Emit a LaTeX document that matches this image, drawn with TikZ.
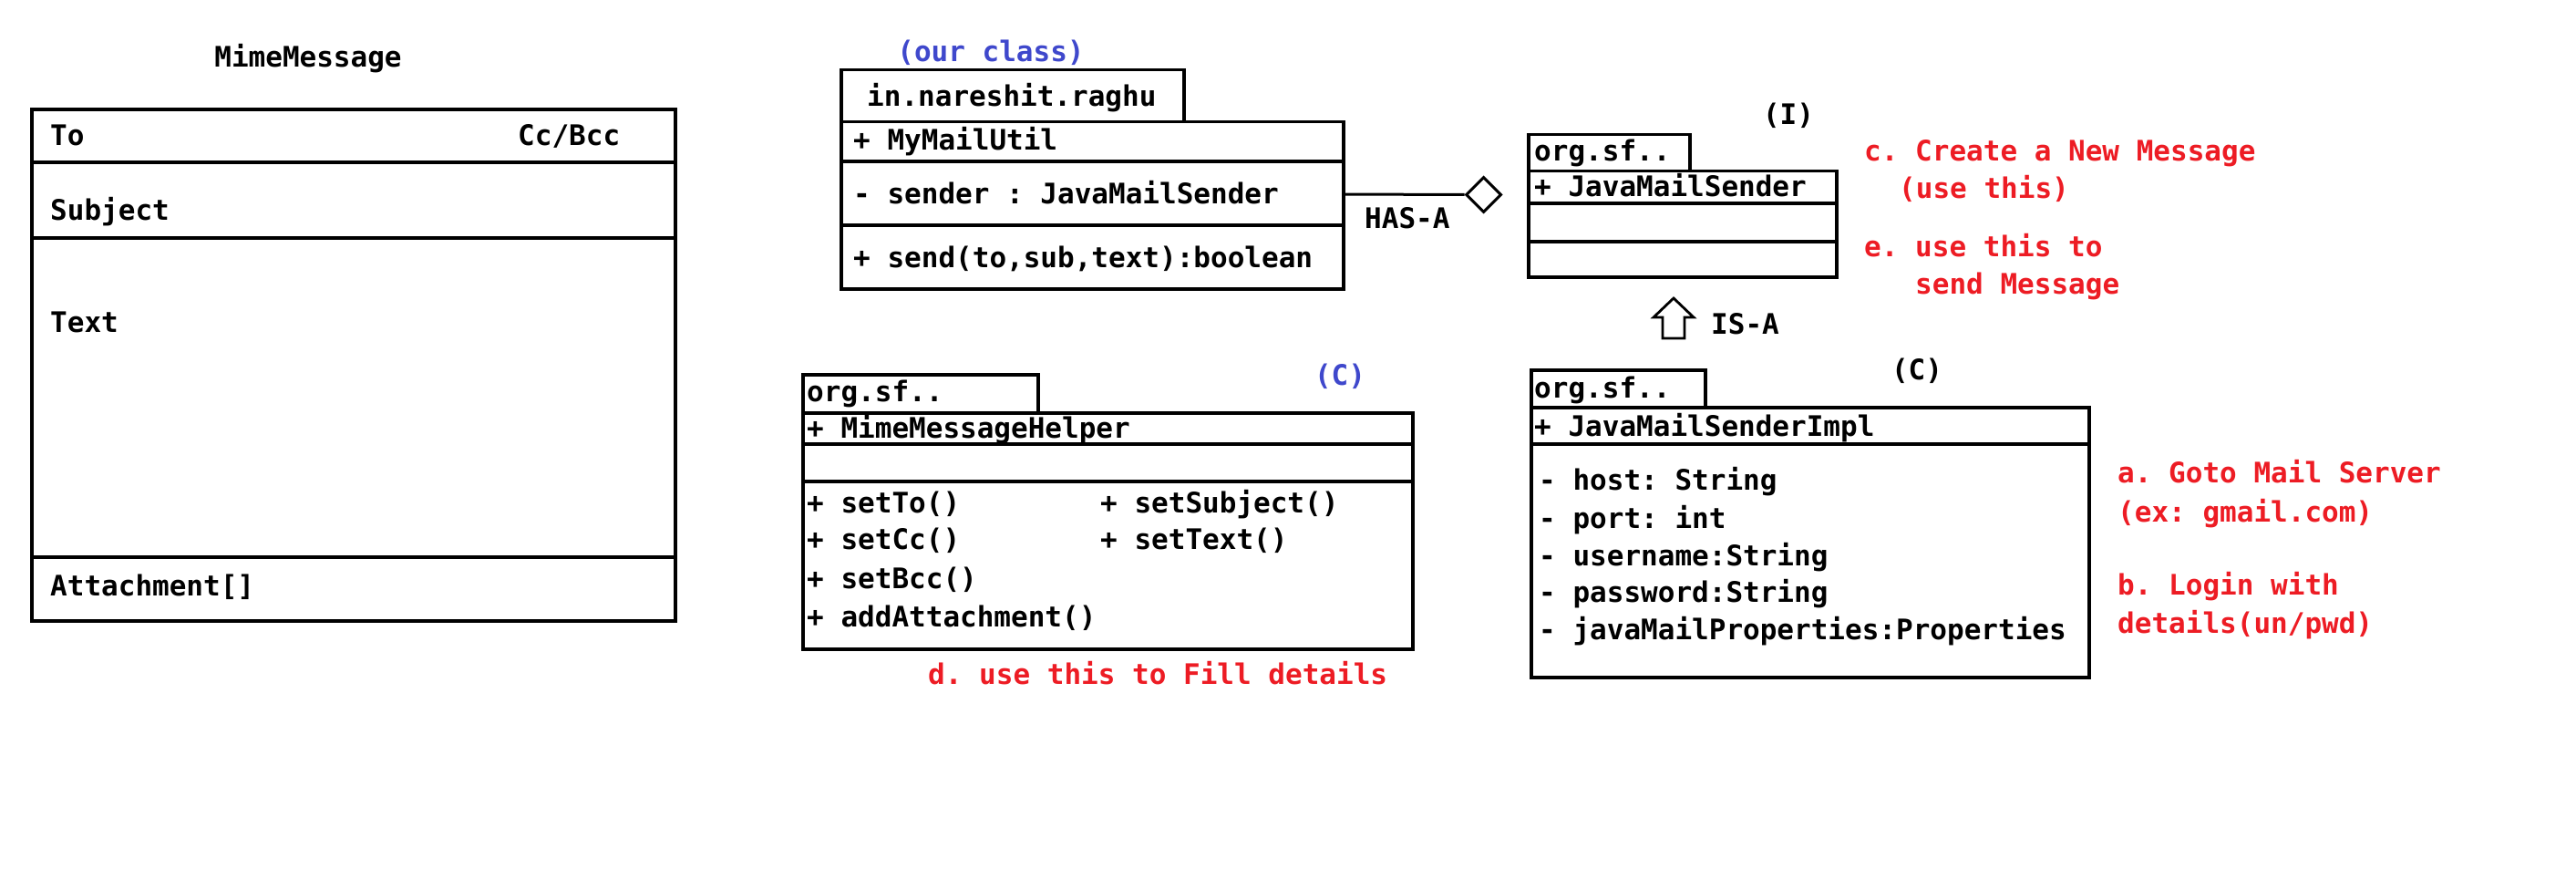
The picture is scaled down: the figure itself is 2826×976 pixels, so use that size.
\documentclass[tikz,border=0pt]{standalone}
\usepackage{fontspec}
\setmonofont{DejaVu Sans Mono}
\usetikzlibrary{shapes.geometric}
\definecolor{pred}{RGB}{237,28,36}
\definecolor{pblue}{RGB}{63,72,204}
\tikzset{
  txt/.style={anchor=base west, inner sep=0pt, font=\fontsize{31}{37}\selectfont\ttfamily\bfseries, text=black},
  ctxt/.style={txt, anchor=base},
  redtxt/.style={txt, text=pred},
  bluetxt/.style={ctxt, text=pblue},
  thickline/.style={line width=4pt},
  umlline/.style={line width=3.5pt},
  boxshape/.style={draw, umlline, inner sep=0pt, anchor=north west, rectangle},
}
\newcommand{\umlbox}[5]{% name, x1, y1, x2, y2
  \node[boxshape, minimum width={(#4-#2)*1pt}, minimum height={(#5-#3)*1pt}] (#1) at (#2,#3) {};}
\begin{document}
\begin{tikzpicture}[x=1pt,y=-1pt]
\useasboundingbox[fill=white] (0,0) rectangle (2826,976);

% ---------- MimeMessage ----------
\node[ctxt] (mmtitle) at (338,74) {MimeMessage};
\node[boxshape, thickline, minimum width=706pt, minimum height=561pt] (mm) at (33,118) {};
\draw[thickline] (33,178) -- (739,178);
\draw[thickline] (33,261) -- (739,261);
\draw[thickline] (33,611) -- (739,611);
\node[txt] (mmto) at (55,160) {To};
\node[txt] (mmcc) at (568,160) {Cc/Bcc};
\node[txt] (mmsub) at (55,242) {Subject};
\node[txt] (mmtext) at (55,364) {Text};
\node[txt] (mmatt) at (55,653) {Attachment[]};

% ---------- MyMailUtil ----------
\node[bluetxt] (ourclass) at (1087,68) {(our class)};
\umlbox{mutab}{921}{75}{1297}{132}
\umlbox{mu}{921}{132}{1472}{315}
\draw[umlline] (921,177) -- (1472,177);
\draw[umlline] (921,247) -- (1472,247);
\node[txt] (mupkg) at (951,117) {in.nareshit.raghu};
\node[txt] (muname) at (936,165) {+ MyMailUtil};
\node[txt] (mufield) at (936,224) {- sender : JavaMailSender};
\node[txt] (mumeth) at (936,294) {+ send(to,sub,text):boolean};

% HAS-A
\node[diamond, draw, line width=3pt, inner sep=0pt, minimum width=39pt, minimum height=39pt] (dia) at (1627.5,213.5) {};
\coordinate (hasstart) at (1472,213);
\draw[line width=3pt] (hasstart) -- (dia.west);
\node[txt] (hasa) at (1497,251) {HAS-A};

% ---------- JavaMailSender ----------
\node[ctxt] (ilabel) at (1962,137) {(I)};
\umlbox{jstab}{1675}{146}{1852}{186}
\umlbox{js}{1675}{186}{2013}{302}
\draw[umlline] (1675,223) -- (2013,223);
\draw[umlline] (1675,265) -- (2013,265);
\node[txt] (jspkg) at (1683,177) {org.sf..};
\node[txt] (jsname) at (1683,216) {+ JavaMailSender};

\node[redtxt] (notec) at (2045,177) {c. Create a New Message};
\node[redtxt] (notec2) at (2083,218) {(use this)};
\node[redtxt] (notee) at (2045,281) {e. use this to};
\node[redtxt] (notee2) at (2101,323) {send Message};

% IS-A arrow
\draw[line width=2.8pt, line join=miter] (1836,327) -- (1858,348) -- (1848,348) -- (1848,371) -- (1824,371) -- (1824,348) -- (1814,348) -- cycle;
\node[txt] (isa) at (1877,366) {IS-A};

% ---------- JavaMailSenderImpl ----------
\node[ctxt] (clabel2) at (2103,416) {(C)};
\umlbox{jitab}{1678}{404}{1869}{445}
\umlbox{ji}{1678}{445}{2290}{741}
\draw[umlline] (1678,487) -- (2290,487);
\node[txt] (jipkg) at (1683,436) {org.sf..};
\node[txt] (jiname) at (1683,478) {+ JavaMailSenderImpl};
\node[txt] (jif1) at (1688,537) {- host: String};
\node[txt] (jif2) at (1688,579) {- port: int};
\node[txt] (jif3) at (1688,620) {- username:String};
\node[txt] (jif4) at (1688,660) {- password:String};
\node[txt] (jif5) at (1688,701) {- javaMailProperties:Properties};

\node[redtxt] (notea) at (2323,529) {a. Goto Mail Server};
\node[redtxt] (notea2) at (2323,572) {(ex: gmail.com)};
\node[redtxt] (noteb) at (2323,652) {b. Login with};
\node[redtxt] (noteb2) at (2323,694) {details(un/pwd)};

% ---------- MimeMessageHelper ----------
\node[bluetxt] (clabel1) at (1470,422) {(C)};
\umlbox{mhtab}{879}{409}{1137}{451}
\umlbox{mh}{879}{451}{1548}{710}
\draw[umlline] (879,487) -- (1548,487);
\draw[umlline] (879,528) -- (1548,528);
\node[txt] (mhpkg) at (885,440) {org.sf..};
\node[txt] (mhname) at (885,480) {+ MimeMessageHelper};
\node[txt] (mhm1) at (885,562) {+ setTo()};
\node[txt] (mhm2) at (885,602) {+ setCc()};
\node[txt] (mhm3) at (885,645) {+ setBcc()};
\node[txt] (mhm4) at (885,687) {+ addAttachment()};
\node[txt] (mhm5) at (1207,562) {+ setSubject()};
\node[txt] (mhm6) at (1207,602) {+ setText()};
\node[redtxt] (noted) at (1018,750) {d. use this to Fill details};

\end{tikzpicture}
\end{document}
